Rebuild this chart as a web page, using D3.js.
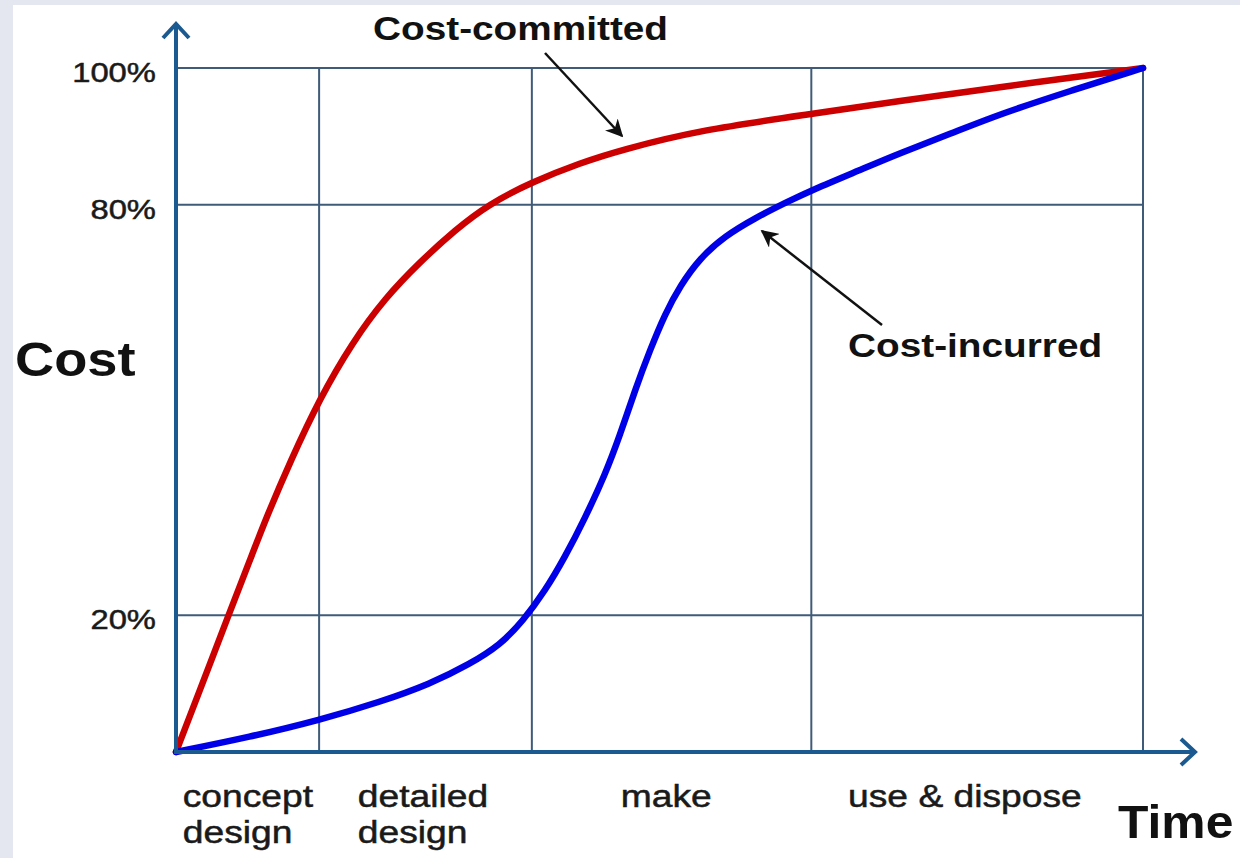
<!DOCTYPE html>
<html>
<head>
<meta charset="utf-8">
<script src="https://cdn.jsdelivr.net/npm/d3@7"></script>
<style>
  body { margin: 0; background: #fff; }
  svg { display: block; font-family: "Liberation Sans", Arial, sans-serif; }
</style>
</head>
<body>
<svg id="chart"></svg>
<script>
// phases along the time axis (percent of life cycle)
const phaseEdges = [0, 14.8, 36.8, 65.7, 100];
const phaseLabels = [["concept", "design"], ["detailed", "design"], ["make"], ["use & dispose"]];
const labelOffsets = [0.7, 4, 9.2, 3.8]; // label start inside each phase

// y ticks
const yTicks = [20, 80, 100];
const yTickLabels = ["20%", "80%", "100%"];

// curves: time (%) and cost (%)
const committedTime = [0, 2.48, 5.48, 7.65, 9.41, 11.79, 14.89, 18.2, 21.61, 25.23, 28.85, 32.37, 36.81, 41.78, 46.02, 54.19, 65.67, 74.87, 85.21, 100];
const committedCost = [0, 9.06, 20.18, 28.07, 34.5, 42.4, 51.75, 59.8, 66.37, 71.64, 76.32, 80.12, 83.33, 86.11, 88.01, 90.94, 93.27, 95.18, 97.22, 100];

const incurredTime = [0, 7.65, 14.89, 21.1, 26.27, 30.4, 33.51, 35.88, 38.16, 40.23, 42.3, 44.36, 45.92, 47.47, 49.02, 50.57, 52.12, 54.19, 56.77, 59.88, 63.18, 65.77, 70.73, 74.87, 80.04, 85.21, 92.45, 100];
const incurredCost = [0, 2.19, 4.68, 7.31, 9.94, 12.87, 15.64, 19.15, 23.54, 28.51, 34.21, 40.5, 46.35, 52.92, 58.77, 64.04, 68.13, 72.22, 75.44, 78.07, 80.41, 82.16, 85.09, 87.57, 90.35, 93.27, 96.64, 100];

const W = 1240, H = 858;

const svg = d3.select("#chart").attr("width", W).attr("height", H);

// pale frame at left and top edges
svg.append("rect").attr("width", W).attr("height", H).attr("fill", "#e4e6f0");
svg.append("rect").attr("x", 13).attr("y", 5).attr("width", W - 13).attr("height", H - 5).attr("fill", "#fff");

const x = d3.scaleLinear().domain([0, 100]).range([176, 1143]);
const y = d3.scaleLinear().domain([0, 100]).range([752, 68]);

const gridColor = "#3f5b78";
const axisColor = "#1b5a90";

// grid
svg.append("g")
  .selectAll("line")
  .data(yTicks)
  .join("line")
  .attr("x1", x(0)).attr("x2", x(100))
  .attr("y1", (d) => y(d)).attr("y2", (d) => y(d))
  .attr("stroke", gridColor).attr("stroke-width", 2);

svg.append("g")
  .selectAll("line")
  .data(phaseEdges.slice(1))
  .join("line")
  .attr("x1", (d) => x(d)).attr("x2", (d) => x(d))
  .attr("y1", y(0)).attr("y2", y(100))
  .attr("stroke", gridColor).attr("stroke-width", 2);

// helper: stretch a text element horizontally (source text is wide)
function widen(sel, k) {
  sel.each(function () {
    const len = this.getComputedTextLength();
    d3.select(this).attr("textLength", len * k).attr("lengthAdjust", "spacingAndGlyphs");
  });
  return sel;
}

// y tick labels
svg.append("g")
  .selectAll("text")
  .data(yTicks)
  .join("text")
  .attr("x", 156)
  .attr("y", (d) => y(d) + 14)
  .attr("font-size", 28)
  .attr("fill", "#1a1a1a")
  .attr("stroke", "#1a1a1a").attr("stroke-width", 0.5)
  .text((d, i) => yTickLabels[i])
  .call(widen, 1.17)
  .attr("x", function () { return 156 - this.getAttribute("textLength"); });

// phase labels
phaseLabels.forEach((lines, i) => {
  lines.forEach((s, j) => {
    svg.append("text")
      .attr("x", x(phaseEdges[i] + labelOffsets[i]))
      .attr("y", 807 + j * 36)
      .attr("font-size", 31)
      .attr("fill", "#1a1a1a")
      .attr("stroke", "#1a1a1a").attr("stroke-width", 0.5)
      .text(s)
      .call(widen, 1.2);
  });
});

// curves (basis spline keeps them smooth like the hand-drawn original)
const line = d3.line()
  .x((d) => x(d[0]))
  .y((d) => y(d[1]))
  .curve(d3.curveBasis);

svg.append("path")
  .datum(d3.zip(committedTime, committedCost))
  .attr("d", line)
  .attr("fill", "none")
  .attr("stroke", "#cc0000")
  .attr("stroke-width", 6.5)
  .attr("stroke-linecap", "round");

svg.append("path")
  .datum(d3.zip(incurredTime, incurredCost))
  .attr("d", line)
  .attr("fill", "none")
  .attr("stroke", "#0000e8")
  .attr("stroke-width", 6.5)
  .attr("stroke-linecap", "round");

// axes with arrow heads
svg.append("line")
  .attr("x1", x(0)).attr("x2", x(0))
  .attr("y1", y(0) + 2).attr("y2", 24)
  .attr("stroke", axisColor).attr("stroke-width", 4);
svg.append("path")
  .attr("d", `M${x(0) - 13},${38} L${x(0)},${24} L${x(0) + 13},${38}`)
  .attr("fill", "none").attr("stroke", axisColor).attr("stroke-width", 4);

svg.append("line")
  .attr("x1", x(0) - 2).attr("x2", 1194)
  .attr("y1", y(0)).attr("y2", y(0))
  .attr("stroke", axisColor).attr("stroke-width", 4);
svg.append("path")
  .attr("d", `M1181,${y(0) - 13} L1195,${y(0)} L1181,${y(0) + 13}`)
  .attr("fill", "none").attr("stroke", axisColor).attr("stroke-width", 4);

// axis titles
svg.append("text")
  .attr("x", 15).attr("y", 376)
  .attr("font-size", 48).attr("font-weight", "bold")
  .attr("fill", "#111")
  .text("Cost")
  .call(widen, 1.13);

svg.append("text")
  .attr("x", 1118).attr("y", 838)
  .attr("font-size", 47).attr("font-weight", "bold")
  .attr("fill", "#111")
  .text("Time")
  .call(widen, 1.06);

// annotations
svg.append("defs").append("marker")
  .attr("id", "head")
  .attr("viewBox", "0 0 10 10")
  .attr("refX", 9).attr("refY", 5)
  .attr("markerWidth", 7).attr("markerHeight", 7)
  .attr("markerUnits", "strokeWidth")
  .attr("orient", "auto")
  .append("path")
  .attr("d", "M0,0 L10,5 L0,10 L3,5 Z")
  .attr("fill", "#111");

svg.append("line")
  .attr("x1", 545).attr("y1", 53).attr("x2", 622).attr("y2", 136)
  .attr("stroke", "#111").attr("stroke-width", 2.5)
  .attr("marker-end", "url(#head)");

svg.append("line")
  .attr("x1", 882).attr("y1", 325).attr("x2", 762).attr("y2", 231)
  .attr("stroke", "#111").attr("stroke-width", 2.5)
  .attr("marker-end", "url(#head)");

svg.append("text")
  .attr("x", 373).attr("y", 40)
  .attr("font-size", 34).attr("font-weight", "bold")
  .attr("fill", "#111")
  .text("Cost-committed")
  .call(widen, 1.14);

svg.append("text")
  .attr("x", 848).attr("y", 357)
  .attr("font-size", 34).attr("font-weight", "bold")
  .attr("fill", "#111")
  .text("Cost-incurred")
  .call(widen, 1.14);
</script>
</body>
</html>
